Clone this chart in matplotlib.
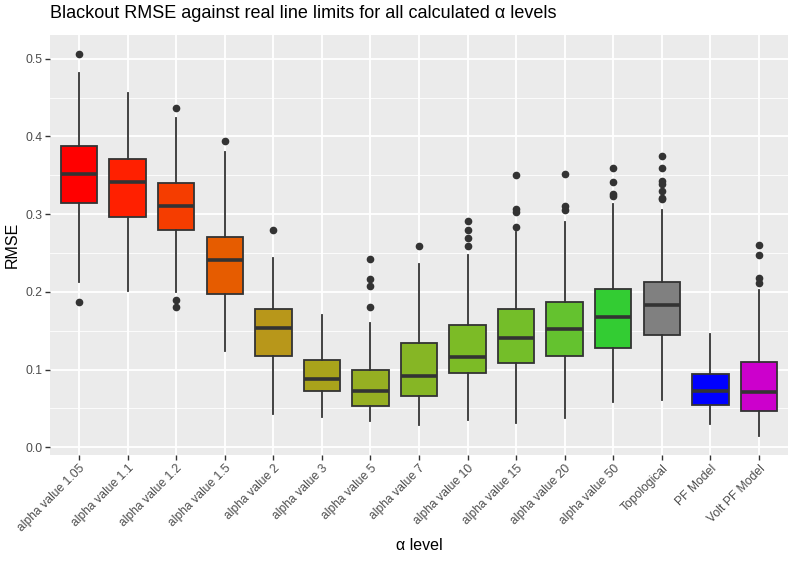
import matplotlib
matplotlib.use("Agg")
import matplotlib.pyplot as plt

plt.rcParams['font.family'] = ['Liberation Sans', 'DejaVu Sans']

categories = ["alpha value 1.05", "alpha value 1.1", "alpha value 1.2", "alpha value 1.5",
              "alpha value 2", "alpha value 3", "alpha value 5", "alpha value 7",
              "alpha value 10", "alpha value 15", "alpha value 20", "alpha value 50",
              "Topological", "PF Model", "Volt PF Model"]

q1 = [0.314, 0.296, 0.280, 0.197, 0.118, 0.073, 0.053, 0.066, 0.095, 0.109, 0.117, 0.128, 0.144, 0.055, 0.047]
med = [0.352, 0.342, 0.311, 0.241, 0.153, 0.088, 0.072, 0.092, 0.116, 0.140, 0.152, 0.168, 0.183, 0.073, 0.071]
q3 = [0.388, 0.371, 0.340, 0.271, 0.178, 0.112, 0.100, 0.134, 0.158, 0.178, 0.187, 0.204, 0.213, 0.094, 0.110]
whislo = [0.213, 0.201, 0.200, 0.124, 0.043, 0.039, 0.034, 0.029, 0.035, 0.031, 0.038, 0.058, 0.061, 0.030, 0.015]
whishi = [0.481, 0.456, 0.424, 0.380, 0.243, 0.170, 0.160, 0.236, 0.248, 0.277, 0.290, 0.313, 0.305, 0.146, 0.203]
outliers = [
    [0.506, 0.187],
    [],
    [0.436, 0.189, 0.180],
    [0.394],
    [0.279],
    [],
    [0.242, 0.217, 0.208, 0.180],
    [0.259],
    [0.291, 0.279, 0.269, 0.259],
    [0.350, 0.306, 0.303, 0.284],
    [0.352, 0.311, 0.305],
    [0.359, 0.342, 0.326, 0.323],
    [0.375, 0.360, 0.343, 0.339, 0.330, 0.321, 0.319],
    [],
    [0.260, 0.247, 0.218, 0.211],
]
colors = ["#FF0000", "#FF2000", "#F53D00", "#E65C00", "#B8971A", "#A9A31B", "#96AF22",
          "#86B625", "#7CBB26", "#74BE29", "#64C22F", "#33CC33", "#808080", "#0000FF", "#CC00CC"]

fig = plt.figure(figsize=(7.95, 5.61), dpi=100)
ax = fig.add_axes([50/795, (561-455)/561, 738/795, 420/561])
ax.set_facecolor("#EBEBEB")

stats = []
for i in range(len(categories)):
    stats.append(dict(med=med[i], q1=q1[i], q3=q3[i], whislo=whislo[i], whishi=whishi[i],
                      fliers=outliers[i], label=categories[i]))

positions = list(range(1, len(categories) + 1))
bp = ax.bxp(stats, positions=positions, widths=0.75, patch_artist=True, showcaps=False,
            boxprops=dict(edgecolor="#333333", linewidth=1.3),
            medianprops=dict(color="#333333", linewidth=2.6),
            whiskerprops=dict(color="#333333", linewidth=1.3),
            flierprops=dict(marker='o', markerfacecolor="#333333", markeredgecolor="#333333",
                            markersize=4.5, linestyle='none'),
            zorder=3)
for patch, c in zip(bp['boxes'], colors):
    patch.set_facecolor(c)

ax.set_xlim(0.4, len(categories) + 0.6)
ax.set_ylim(-0.0099, 0.5305)
ax.set_yticks([0.0, 0.1, 0.2, 0.3, 0.4, 0.5])
ax.set_yticklabels(["0.0", "0.1", "0.2", "0.3", "0.4", "0.5"])
ax.set_yticks([0.05, 0.15, 0.25, 0.35, 0.45], minor=True)
ax.set_xticks(positions)
ax.set_xticklabels(categories, rotation=45, ha='right', rotation_mode='anchor')

ax.grid(True, which='major', color='white', linewidth=1.3, zorder=0)
ax.grid(True, which='minor', axis='y', color='white', linewidth=0.6, zorder=0)
ax.set_axisbelow(True)
for s in ax.spines.values():
    s.set_visible(False)
ax.tick_params(axis='both', which='major', color="#333333", length=3.5, width=1.0,
               labelcolor="#4D4D4D", labelsize=8.7, pad=2)
ax.tick_params(axis='y', which='minor', length=0)

ax.set_xlabel("α level", fontsize=11.5, color="black", labelpad=3)
ax.set_ylabel("RMSE", fontsize=11.5, color="black", labelpad=4)
fig.text(50/795, 1 - 13/561, "Blackout RMSE against real line limits for all calculated α levels",
         fontsize=13, ha='left', va='center', color='black')

fig.savefig("out.png", dpi=100)
